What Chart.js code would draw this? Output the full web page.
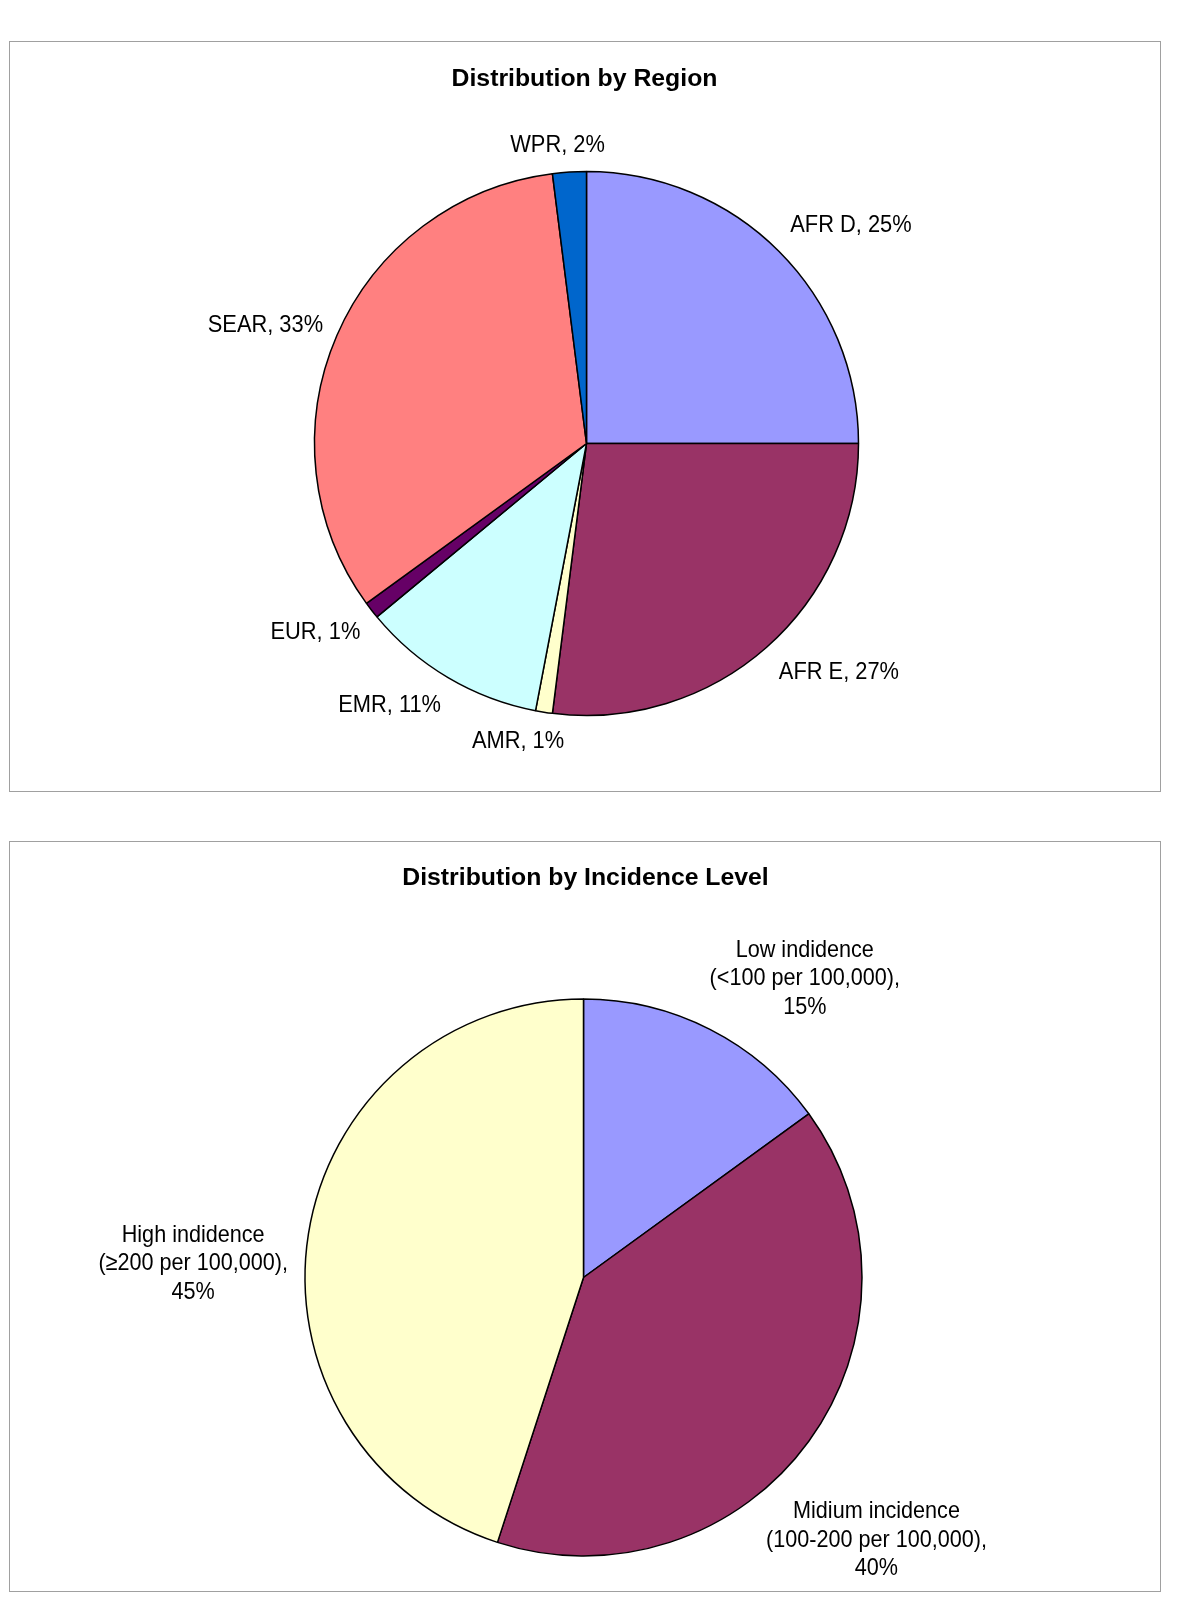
<!DOCTYPE html>
<html>
<head>
<meta charset="utf-8">
<script src="https://cdn.jsdelivr.net/npm/chart.js@4.4.0/dist/chart.umd.min.js"></script>
<style>
  body { margin: 0; background: #fff; width: 1200px; height: 1622px; position: relative; overflow: hidden; }
  .panel { position: absolute; left: 9px; width: 1150px; height: 749px; border: 1px solid #a0a0a0; }
  .panel canvas { position: absolute; left: 0; top: 0; }
</style>
</head>
<body>
<div class="panel" style="top:41px"><canvas id="regionChart" width="1150" height="749"></canvas></div>
<div class="panel" style="top:841px"><canvas id="incidenceChart" width="1150" height="749"></canvas></div>
<script>
// Distribution by Region (percent)
var regionLabels = ['AFR D', 'AFR E', 'AMR', 'EMR', 'EUR', 'SEAR', 'WPR'];
var regionShares = [25, 27, 1, 11, 1, 33, 2];
var regionColors = ['#9999FF', '#993366', '#FFFFCC', '#CCFFFF', '#660066', '#FF8080', '#0066CC'];

// Distribution by Incidence Level (percent)
var incidenceLabels = [
  ['Low indidence', '(<100 per 100,000)'],
  ['Midium incidence', '(100-200 per 100,000)'],
  ['High indidence', '(\u2265200 per 100,000)']
];
var incidenceShares = [15, 40, 45];
var incidenceColors = ['#9999FF', '#993366', '#FFFFCC'];

var FONT = '"Liberation Sans", Arial, sans-serif';

// pad the chart area so the pie lands at (cx, cy) with radius r (canvas coords)
function padFor(cx, cy, r, w, h, border) {
  var half = r + border / 2;
  var left = cx - half, top = cy - half;
  return { left: left, top: top, right: w - left - 2 * half, bottom: h - top - 2 * half };
}

// labels outside each slice + the chart title
function makeLabelPlugin(cfg) {
  return {
    id: 'sliceLabels',
    afterDatasetsDraw: function (chart) {
      var ctx = chart.ctx;
      var meta = chart.getDatasetMeta(0);
      var values = chart.data.datasets[0].data;
      ctx.save();
      ctx.fillStyle = '#000';
      ctx.textAlign = 'center';
      ctx.textBaseline = 'middle';
      ctx.font = cfg.font;
      meta.data.forEach(function (arc, i) {
        var p = arc.getProps(['x', 'y', 'startAngle', 'endAngle', 'outerRadius'], true);
        var mid = (p.startAngle + p.endAngle) / 2;
        var dx = Math.cos(mid), dy = Math.sin(mid);
        var lines = cfg.lines(chart.data.labels[i], values[i]);
        var w = Math.max.apply(null, lines.map(function (l) { return ctx.measureText(l).width; })) * cfg.squeeze;
        var h = lines.length * cfg.lineHeight;
        var r = p.outerRadius + cfg.gap;
        var cx = p.x + dx * r + dx * w / 2 + cfg.nudge[i][0];
        var cy = p.y + dy * r + dy * h / 2 + cfg.nudge[i][1];
        lines.forEach(function (line, k) {
          var ly = cy + (k - (lines.length - 1) / 2) * cfg.lineHeight;
          ctx.save();
          ctx.translate(cx, ly);
          ctx.scale(cfg.squeeze, 1);
          ctx.fillText(line, 0, 0);
          ctx.restore();
        });
      });
      ctx.font = cfg.titleFont;
      ctx.fillText(cfg.title, cfg.titleX, cfg.titleY);
      ctx.restore();
    }
  };
}

function pieConfig(labels, shares, colors, padding, plugin) {
  return {
    type: 'pie',
    data: {
      labels: labels,
      datasets: [{
        data: shares,
        backgroundColor: colors,
        borderColor: '#000',
        borderWidth: 1.5
      }]
    },
    options: {
      responsive: false,
      animation: false,
      layout: { padding: padding },
      plugins: { legend: { display: false }, tooltip: { enabled: false } }
    },
    plugins: [plugin]
  };
}

// Region pie
var regionPlugin = makeLabelPlugin({
  font: '24px ' + FONT,
  titleFont: 'bold 24.8px ' + FONT,
  title: 'Distribution by Region',
  titleX: 574.5, titleY: 37,
  squeeze: 0.91,
  lineHeight: 28.5,
  gap: 30,
  nudge: [[8, 5], [13, -8], [-14, -14], [-17, -10], [3, -5], [9, 7], [-7, 18]],
  lines: function (name, v) { return [name + ', ' + v + '%']; }
});
new Chart(document.getElementById('regionChart').getContext('2d'),
  pieConfig(regionLabels, regionShares, regionColors,
    padFor(576.5, 401.5, 272, 1150, 749, 1.5), regionPlugin));

// Incidence pie
var incidencePlugin = makeLabelPlugin({
  font: '24px ' + FONT,
  titleFont: 'bold 24.8px ' + FONT,
  title: 'Distribution by Incidence Level',
  titleX: 575.5, titleY: 36.5,
  squeeze: 0.9,
  lineHeight: 28.5,
  gap: 30,
  nudge: [[38, 14], [-46, 56], [8, 41]],
  lines: function (name, v) {
    var out = name.slice();
    out[out.length - 1] += ',';
    out.push(v + '%');
    return out;
  }
});
new Chart(document.getElementById('incidenceChart').getContext('2d'),
  pieConfig(incidenceLabels, incidenceShares, incidenceColors,
    padFor(573.5, 435.5, 278.5, 1150, 749, 1.5), incidencePlugin));
</script>
</body>
</html>
